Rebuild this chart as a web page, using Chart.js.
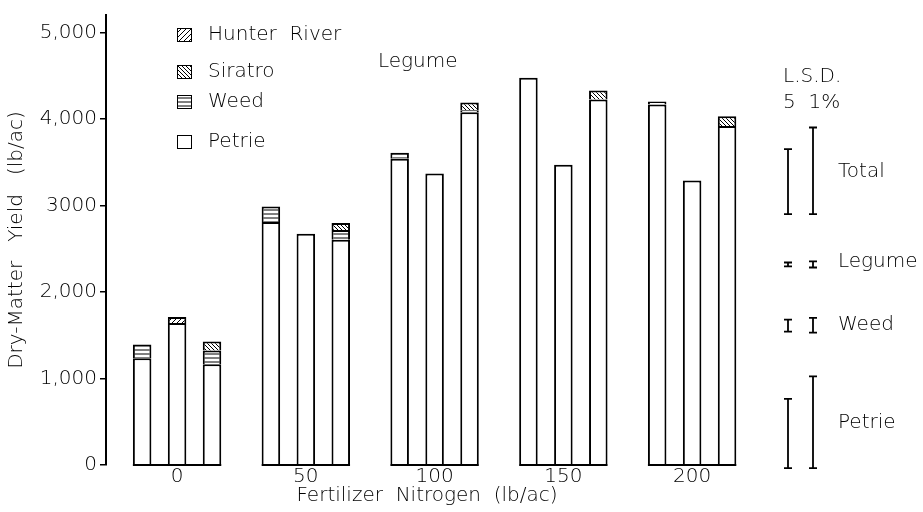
<!DOCTYPE html>
<html>
<head>
<meta charset="utf-8">
<script src="https://cdn.jsdelivr.net/npm/chart.js@4.4.0/dist/chart.umd.min.js"></script>
<style>
  html, body { margin: 0; background: #fff; }
  #wrap { width: 923px; height: 512px; }
</style>
</head>
<body>
<div id="wrap"><canvas id="c"></canvas></div>
<script>
// Fertilizer N levels (lb/ac)
const nitrogen = [0, 50, 100, 150, 200];

// bar 1 = Petrie alone, bar 2 = Petrie + Hunter River, bar 3 = Petrie + Siratro
const petrie1 = [1233, 2808, 3539, 4475, 4167];
const weed1 = [160, 180, 68, null, 34];
const petrie2 = [1640, 2671, 3368, 3470, 3288];
const hunter2 = [70, null, null, null, null];
const petrie3 = [1164, 2603, 4075, 4224, 3916];
const weed3 = [160, 114, 23, null, null];
const siratro3 = [103, 80, 91, 103, 114];

const yTicks = [0, 1000, 2000, 3000, 4000, 5000];
const yTickLabels = ['0', '1,000', '2,000', '3000', '4,000', '5,000'];

// L.S.D. bars (5% and 1%), lb/ac, with the yield where each bar starts
const lsdNames = ['Total', 'Legume', 'Weed', 'Petrie'];
const lsd5 = [750, 45, 140, 800];
const lsd1 = [1000, 70, 170, 1060];
const lsdBase5 = [2900, 2295, 1541, -35];
const lsdBase1 = [2900, 2282, 1530, -35];

const FONT = '"DejaVu Sans", sans-serif';
const FW = '200';
const FS = 20;
const INK = '#000';

function makePattern(kind) {
    const s = kind === 'hunter' ? 5 : 4;
    const c = document.createElement('canvas');
    c.width = s; c.height = s;
    const g = c.getContext('2d');
    g.fillStyle = '#fff';
    g.fillRect(0, 0, s, s);
    g.strokeStyle = INK;
    g.lineWidth = 1;
    g.beginPath();
    if (kind === 'weed') {
        g.moveTo(0, s / 2); g.lineTo(s, s / 2);
    } else if (kind === 'siratro') {
        g.moveTo(-1, -1); g.lineTo(s + 1, s + 1);
        g.moveTo(-1, s - 1); g.lineTo(1, s + 1);
        g.moveTo(s - 1, -1); g.lineTo(s + 1, 1);
    } else {
        g.moveTo(-1, s + 1); g.lineTo(s + 1, -1);
        g.moveTo(-1, 1); g.lineTo(1, -1);
        g.moveTo(s - 1, s + 1); g.lineTo(s + 1, s - 1);
    }
    g.stroke();
    return g.createPattern(c, 'repeat');
}

const fills = {
    petrie: '#ffffff',
    weed: makePattern('weed'),
    siratro: makePattern('siratro'),
    hunter: makePattern('hunter')
};

function ds(label, vals, stack, fill) {
    return {
        label: label,
        stack: stack,
        data: nitrogen.map((n, i) => ({ x: n, y: vals[i] })),
        backgroundColor: fill,
        borderColor: INK,
        borderWidth: { top: 2, left: 2, right: 2, bottom: 0 },
        borderSkipped: 'start',
        categoryPercentage: 0.814,
        barPercentage: 0.53
    };
}

const datasets = [
    ds('Petrie', petrie1, 'b1', fills.petrie),
    ds('Weed', weed1, 'b1', fills.weed),
    ds('Petrie', petrie2, 'b2', fills.petrie),
    ds('Hunter River', hunter2, 'b2', fills.hunter),
    ds('Petrie', petrie3, 'b3', fills.petrie),
    ds('Weed', weed3, 'b3', fills.weed),
    ds('Siratro', siratro3, 'b3', fills.siratro)
];

// bottom line under each group of three bars
const groupBase = {
    id: 'groupBase',
    afterDatasetsDraw(chart) {
        const ctx = chart.ctx;
        const y0 = chart.scales.y.getPixelForValue(0);
        const first = chart.getDatasetMeta(0).data;
        const last = chart.getDatasetMeta(4).data;
        ctx.save();
        ctx.strokeStyle = INK;
        ctx.lineWidth = 2;
        nitrogen.forEach((n, i) => {
            const a = first[i], b = last[i];
            ctx.beginPath();
            ctx.moveTo(a.x - a.width / 2, y0);
            ctx.lineTo(b.x + b.width / 2, y0);
            ctx.stroke();
        });
        ctx.restore();
    }
};

// legend, the stray "Legume" note and the L.S.D. bars
const notes = {
    id: 'notes',
    afterDraw(chart) {
        const ctx = chart.ctx;
        const ys = chart.scales.y;
        ctx.save();
        ctx.fillStyle = INK;
        ctx.font = FW + ' ' + FS + 'px ' + FONT;
        ctx.textBaseline = 'middle';

        const items = [['Hunter  River', fills.hunter, 35], ['Siratro', fills.siratro, 72],
                       ['Weed', fills.weed, 102], ['Petrie', fills.petrie, 142]];
        items.forEach(([t, f, y]) => {
            ctx.fillStyle = f;
            ctx.fillRect(177, y - 7, 15, 14);
            ctx.strokeStyle = INK;
            ctx.lineWidth = 1;
            ctx.strokeRect(177.5, y - 6.5, 14, 13);
            ctx.fillStyle = INK;
            ctx.fillText(t, 208, y);
        });

        ctx.fillText('Legume', 378, 62);

        ctx.fillText('L.S.D.', 783, 77);
        ctx.fillText('5  1%', 783, 103);

        const labelY = [172, 262, 325, 423];
        const xs = [788, 813];
        lsdNames.forEach((name, i) => {
            [[lsd5, lsdBase5], [lsd1, lsdBase1]].forEach(([v, b], k) => {
                const x = xs[k];
                const yb = ys.getPixelForValue(b[i]);
                const yt = ys.getPixelForValue(b[i] + v[i]);
                ctx.lineWidth = 1.8;
                ctx.beginPath();
                ctx.moveTo(x, yb); ctx.lineTo(x, yt);
                ctx.moveTo(x - 4, yb); ctx.lineTo(x + 4, yb);
                ctx.moveTo(x - 4, yt); ctx.lineTo(x + 4, yt);
                ctx.stroke();
            });
            ctx.fillText(name, 838, labelY[i]);
        });
        ctx.restore();
    }
};

new Chart(document.getElementById('c'), {
    type: 'bar',
    data: { datasets: datasets },
    plugins: [groupBase, notes],
    options: {
        responsive: true,
        maintainAspectRatio: false,
        animation: false,
        layout: { padding: { left: 0, right: 175, top: 9, bottom: 0 } },
        plugins: { legend: { display: false }, tooltip: { enabled: false } },
        scales: {
            x: {
                type: 'linear',
                stacked: true,
                offset: false,
                min: -27.6,
                max: 221.7,
                afterBuildTicks: (s) => { s.ticks = nitrogen.map(v => ({ value: v })); },
                afterFit: (s) => { s.height = 47; },
                grid: { display: false, drawTicks: false },
                border: { display: false },
                ticks: { color: INK, font: { family: FONT, size: FS, weight: FW }, padding: 0, maxRotation: 0 },
                title: { display: true, text: 'Fertilizer  Nitrogen  (lb/ac)', color: INK,
                         font: { family: FONT, size: FS, weight: FW }, padding: { top: 0, bottom: 4 } }
            },
            y: {
                stacked: true,
                min: 0,
                max: 5200,
                afterBuildTicks: (s) => { s.ticks = yTicks.map(v => ({ value: v })); },
                afterFit: (s) => { s.width = 106; },
                grid: { drawOnChartArea: false, drawTicks: true, tickLength: 6, color: INK, lineWidth: 1.5 },
                border: { display: true, color: INK, width: 2 },
                ticks: {
                    color: INK, padding: 3, font: { family: FONT, size: FS, weight: FW },
                    callback: (v) => yTickLabels[yTicks.indexOf(v)]
                },
                title: { display: true, text: 'Dry-Matter   Yield   (lb/ac)', color: INK,
                         font: { family: FONT, size: FS, weight: FW }, padding: { top: 5, bottom: 0 } }
            }
        }
    }
});
</script>
</body>
</html>
